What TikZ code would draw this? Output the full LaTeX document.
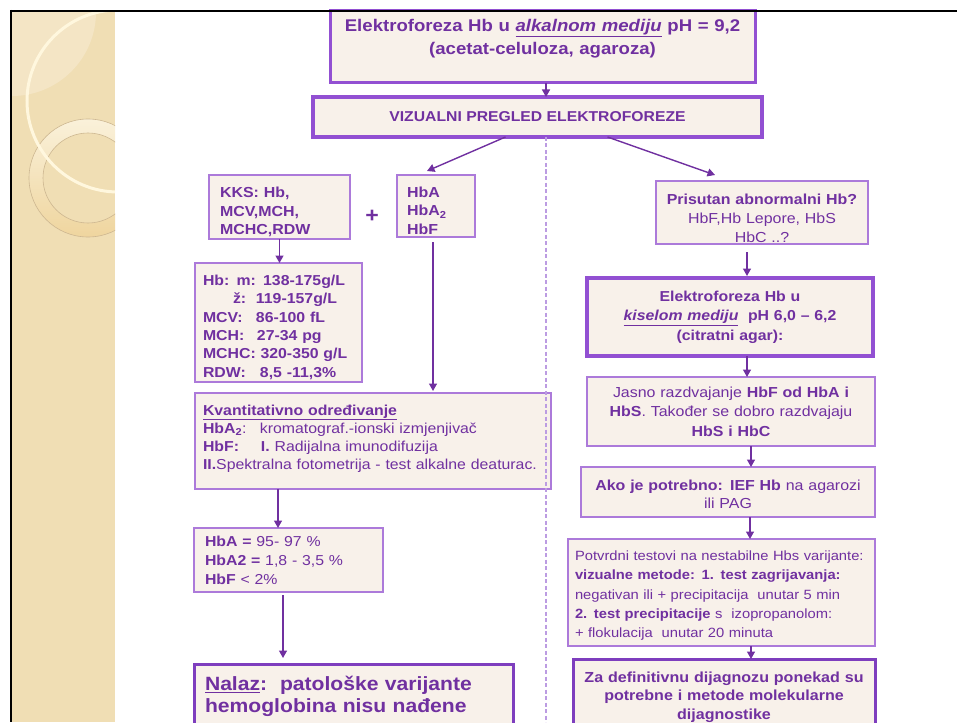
\documentclass[tikz,border=0pt]{standalone}
\usepackage{fontspec}
\setmainfont{Liberation Sans}[FakeStretch=1.1]
\usepackage{xcolor}
\usepackage{tikz}
\usetikzlibrary{arrows.meta, positioning}

\definecolor{txtpurple}{HTML}{7030A0}
\definecolor{boxfill}{HTML}{F8F1EA}
\definecolor{thinline}{HTML}{AC7ADA}
\definecolor{thickline}{HTML}{9250D2}
\definecolor{darkline}{HTML}{7E3EBE}
\definecolor{dashline}{HTML}{BC9CE2}
\definecolor{strip}{HTML}{F0DEB4}
\definecolor{stripfade}{HTML}{F4E5C5}
\definecolor{cream}{HTML}{FFF7DE}
\definecolor{ringedge}{HTML}{CDB791}
\definecolor{ringlight}{HTML}{FAF1DA}
\definecolor{ringdark}{HTML}{EFD59E}

\newcommand{\fsz}[2]{\fontsize{#1}{#2}\selectfont}

\begin{document}
\begin{tikzpicture}[x=1pt, y=-1pt,
    box/.style={draw=thinline, fill=boxfill, line width=1.5pt, inner sep=0pt, outer sep=0pt, anchor=north west, text=txtpurple},
    heavybox/.style={box, draw=thickline, line width=3.5pt},
    arr/.style={draw=txtpurple, line width=1.4pt, -{Triangle[length=7.5pt,width=8pt]}},
    divider/.style={draw=dashline, line width=1.8pt, dash pattern=on 4pt off 2.5pt}]

    \useasboundingbox (0,0) rectangle (957,722);

    % side strip
    \begin{scope}
        \clip (12,12) rectangle (115,722);
        \fill[strip] (12,12) rectangle (115,722);
        \fill[stripfade] (12,12) circle (84pt);
        \shade[even odd rule, top color=ringlight, bottom color=ringdark] (88,178) circle (59pt) (88,178) circle (45pt);
        \draw[ringedge, line width=0.6pt] (88,178) circle (59pt) (88,178) circle (45pt);
        \draw[cream, line width=3pt] (118,101) circle (91pt);
    \end{scope}

    % top boxes
    \node[heavybox, line width=3pt, minimum width=425pt, minimum height=72pt, text width=410pt, align=center, font=\fsz{16.9}{23}\bfseries] (alk) at (330,11)
        {Elektroforeza Hb u \underline{\textit{alkalnom mediju}} pH = 9,2\\(acetat-celuloza, agaroza)\rule[-21pt]{0pt}{21pt}};
    \node[heavybox, minimum width=449pt, minimum height=40pt, font=\fsz{14.3}{18}\bfseries] (viz) at (313,97) {VIZUALNI PREGLED ELEKTROFOREZE};

    % left branch
    \node[box, minimum width=141pt, minimum height=64pt, text width=119pt, align=left, font=\fsz{14.5}{18.5}\bfseries] (kks) at (209,175)
        {\rule{0pt}{21pt}KKS: Hb,\\MCV,MCH,\\MCHC,RDW};
    \node[text=txtpurple, font=\fsz{21}{24}\bfseries] (plus) at (372,216) {+};
    \node[box, minimum width=78pt, minimum height=62pt, text width=58pt, align=left, font=\fsz{14.5}{18.5}\bfseries] (hbs) at (397,175)
        {\rule{0pt}{20pt}HbA\\HbA\textsubscript{2}\\HbF};
    \node[box, minimum width=167pt, minimum height=119pt, text width=151pt, align=left, font=\fsz{14.4}{18.3}\bfseries] (ref) at (195,263)
        {\rule{0pt}{20pt}Hb: m: 138-175g/L\\\hspace*{30pt}\makebox[23pt][l]{ž:}119-157g/L\\\makebox[53pt][l]{MCV:}86-100 fL\\\makebox[54pt][l]{MCH:}27-34 pg\\MCHC: 320-350 g/L\\\makebox[57pt][l]{RDW:}8,5 -11,3\%};
    \node[box, minimum width=356pt, minimum height=96pt, text width=340pt, align=left, font=\fsz{14.4}{18}] (kvant) at (195,393)
        {\textbf{\underline{Kvantitativno određivanje}}\\\makebox[57pt][l]{\textbf{HbA\textsubscript{2}}:}kromatograf.-ionski izmjenjivač\\\makebox[58pt][l]{\textbf{HbF:}}\textbf{I.} Radijalna imunodifuzija\\\textbf{II.}Spektralna fotometrija - test alkalne deaturac.\rule[-8pt]{0pt}{8pt}};
    \node[box, minimum width=189pt, minimum height=64pt, text width=167pt, align=left, font=\fsz{14.4}{19}] (norm) at (194,528)
        {\textbf{HbA =} 95- 97 \%\\\textbf{HbA2 =} 1,8 - 3,5 \%\\\textbf{HbF} < 2\%};
    \node[box, draw=darkline, line width=3pt, minimum width=319pt, minimum height=64pt, text width=297pt, align=left, font=\fsz{19.2}{22}\bfseries] (nalaz) at (194,664)
        {\underline{Nalaz}:\ \ patološke varijante\\hemoglobina nisu nađene};

    % right branch
    \node[box, minimum width=212pt, minimum height=63pt, text width=204pt, align=center, font=\fsz{14.5}{19}] (pris) at (656,181)
        {\rule{0pt}{22pt}\textbf{Prisutan abnormalni Hb?}\\HbF,Hb Lepore, HbS\\HbC ..?};
    \node[heavybox, line width=4pt, minimum width=286pt, minimum height=78pt, text width=276pt, align=center, font=\fsz{14.4}{19.5}\bfseries] (kis) at (587,278)
        {Elektroforeza Hb u\\\underline{\textit{kiselom mediju}}\ \ pH 6,0 – 6,2\\(citratni agar):};
    \node[box, minimum width=288pt, minimum height=69pt, text width=276pt, align=center, font=\fsz{14.5}{19.5}] (jasno) at (587,377)
        {Jasno razdvajanje \textbf{HbF od HbA i}\\\textbf{HbS}. Također se dobro razdvajaju\\\textbf{HbS i HbC}};
    \node[box, minimum width=294pt, minimum height=50pt, text width=284pt, align=center, font=\fsz{14.5}{18}] (ako) at (581,467)
        {\rule{0pt}{15pt}\textbf{Ako je potrebno: IEF Hb} na agarozi\\ili PAG};
    \node[box, minimum width=307pt, minimum height=107pt, text width=293pt, align=left, font=\fsz{13.4}{19.2}] (potv) at (568,539)
        {\rule{0pt}{16pt}Potvrdni testovi na nestabilne Hbs varijante:\\\textbf{vizualne metode: 1. test zagrijavanja:}\\negativan ili + precipitacija\ \ unutar 5 min\\\textbf{2. test precipitacije} s\ \ izopropanolom:\\+ flokulacija\ \ unutar 20 minuta};
    \node[box, draw=darkline, line width=3pt, minimum width=302pt, minimum height=72pt, text width=292pt, align=center, font=\fsz{14.6}{18.5}\bfseries] (dijag) at (573,659)
        {\rule{0pt}{15pt}Za definitivnu dijagnozu ponekad su\\potrebne i metode molekularne\\dijagnostike};

    % arrows
    \draw[arr] ([xshift=3.5pt]alk.south) -- ([xshift=3.5pt]alk.south |- viz.north);
    \draw[arr] ([xshift=-32pt]viz.south) -- ([xshift=-9pt,yshift=4pt]hbs.north);
    \draw[arr] ([xshift=70pt]viz.south) -- ([xshift=-47pt,yshift=6pt]pris.north);
    \draw[arr] (kks.south) -- (kks.south |- ref.north);
    \draw[arr, shorten >=2pt] ([xshift=-3pt,yshift=-5pt]hbs.south) -- ([xshift=-3pt]hbs.south |- kvant.north);
    \draw[arr] ([xshift=-95pt]kvant.south) -- ([xshift=-95pt]kvant.south |- norm.north);
    \draw[arr, shorten >=6pt] ([xshift=-5.5pt,yshift=-3pt]norm.south) -- ([xshift=-5.5pt]norm.south |- nalaz.north);
    \draw[arr, shorten >=2pt] ([xshift=-15pt,yshift=-8pt]pris.south) -- ([xshift=-15pt]pris.south |- kis.north);
    \draw[arr] ([xshift=17pt]kis.south) -- ([xshift=17pt]kis.south |- jasno.north);
    \draw[arr] ([xshift=20pt]jasno.south) -- ([xshift=20pt]jasno.south |- ako.north);
    \draw[arr] ([xshift=22pt]ako.south) -- ([xshift=22pt]ako.south |- potv.north);
    \draw[arr] ([xshift=29.5pt]potv.south) -- ([xshift=29.5pt]potv.south |- dijag.north);

    % divider
    \coordinate (divend) at (546,722);
    \draw[divider] ([xshift=8.5pt]viz.south) -- (divend);

    % frame
    \draw[line width=2.6pt] (10,11) -- (957,11);
    \draw[line width=2.6pt] (11,10) -- (11,722);
\end{tikzpicture}
\end{document}
